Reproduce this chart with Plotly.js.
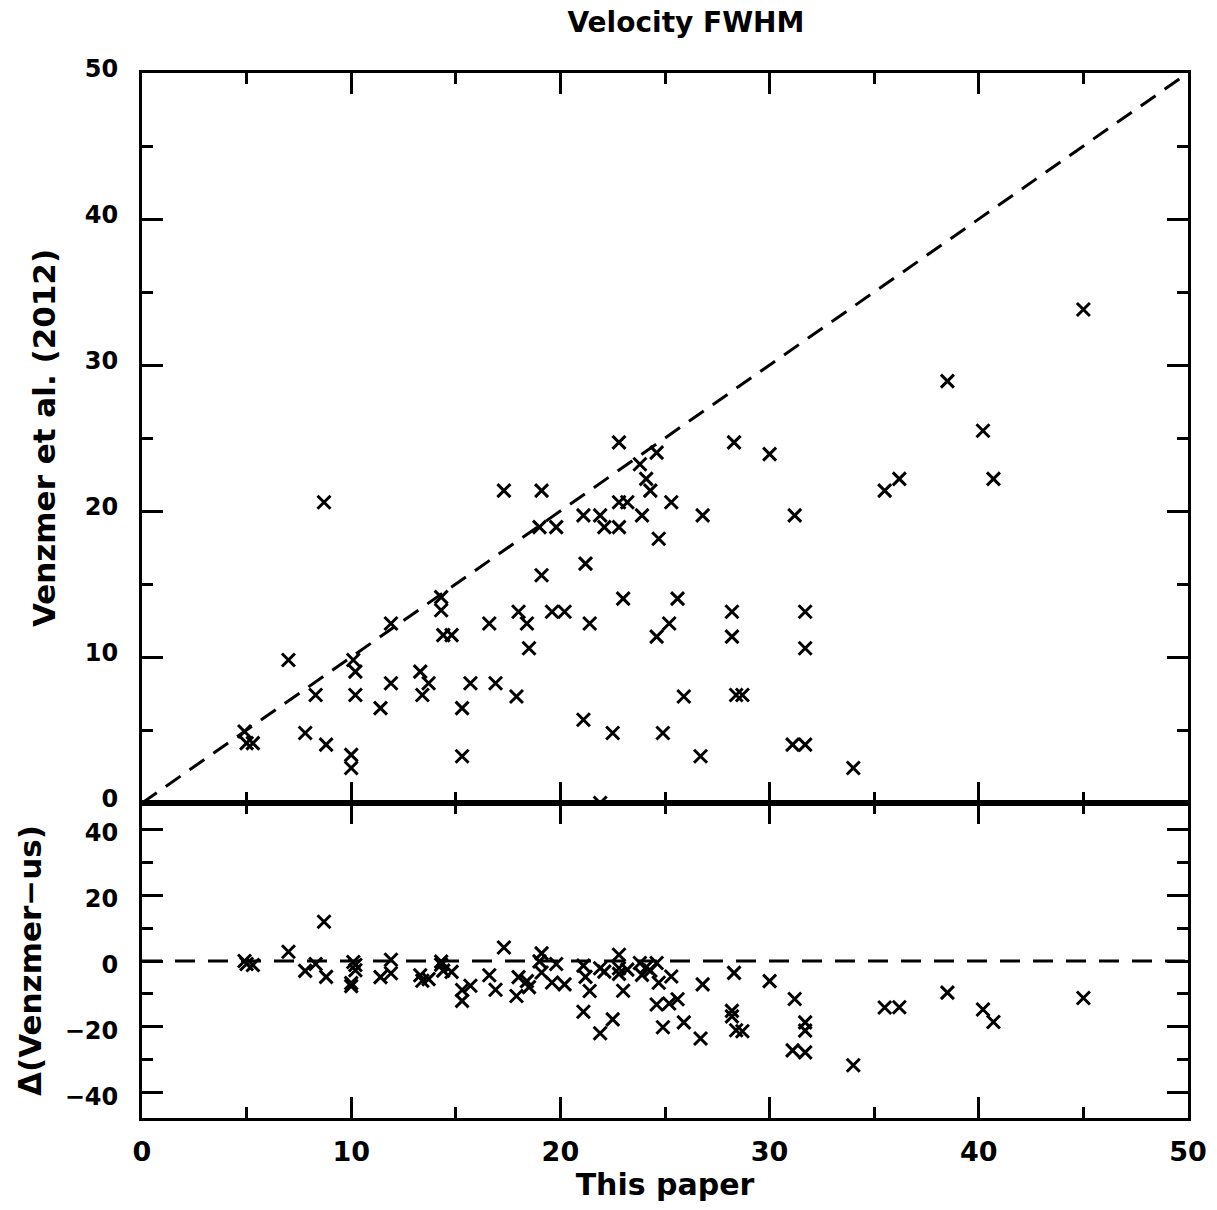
<!DOCTYPE html>
<html>
<head>
<meta charset="utf-8">
<script src="https://cdn.plot.ly/plotly-3.0.1.min.js"></script>
<style>html,body{margin:0;padding:0;background:#fff;}#chart{width:1217px;height:1210px;}</style>
</head>
<body>
<div id="chart"></div>
<script>
// "This paper" velocity FWHM values
var thisPaper = [4.9,5.0,5.3,7.0,7.8,8.3,8.7,8.8,10.0,10.0,10.1,10.2,10.2,11.4,11.9,11.9,13.3,13.4,13.7,14.3,14.3,14.4,14.8,15.3,15.3,15.7,16.6,16.9,17.3,17.9,18.0,18.4,18.5,19.0,19.1,19.1,19.6,19.8,20.2,21.1,21.2,21.1,21.4,21.9,21.9,22.1,22.5,22.8,22.8,22.8,23.2,23.0,23.8,23.9,24.1,24.3,24.6,24.7,24.6,24.9,25.2,25.3,25.6,25.9,26.7,26.8,28.3,28.2,28.2,28.4,28.7,30.0,31.2,31.1,31.7,31.7,31.7,34.0,35.5,36.2,38.5,40.2,40.7,45.0];
// Venzmer et al. (2012) values
var venzmer = [4.9,4.1,4.1,9.8,4.8,7.4,20.6,4.0,3.3,2.4,9.8,9.0,7.4,6.5,12.3,8.2,9.0,7.4,8.2,14.1,13.2,11.5,11.5,6.5,3.2,8.2,12.3,8.2,21.4,7.3,13.1,12.3,10.6,18.9,21.4,15.6,13.1,18.9,13.1,19.7,16.4,5.7,12.3,19.7,0.0,18.9,4.8,24.7,20.6,18.9,20.6,14.0,23.2,19.7,22.2,21.4,24.0,18.1,11.4,4.8,12.3,20.6,14.0,7.3,3.2,19.7,24.7,13.1,11.4,7.4,7.4,23.9,19.7,4.0,13.1,10.6,4.0,2.4,21.4,22.2,28.9,25.5,22.2,33.8];
// Δ(Venzmer − us)
var delta = [0.0,-0.9,-1.2,2.8,-3.0,-0.9,11.9,-4.8,-6.7,-7.6,-0.3,-1.2,-2.8,-4.9,0.4,-3.7,-4.3,-6.0,-5.5,-0.2,-1.1,-2.9,-3.3,-8.8,-12.1,-7.5,-4.3,-8.7,4.1,-10.6,-4.9,-6.1,-7.9,-0.1,2.3,-3.5,-6.5,-0.9,-7.1,-1.4,-4.8,-15.4,-9.1,-2.2,-21.9,-3.2,-17.7,1.9,-2.2,-3.9,-2.6,-9.0,-0.6,-4.2,-1.9,-2.9,-0.6,-6.6,-13.2,-20.1,-12.9,-4.7,-11.6,-18.6,-23.5,-7.1,-3.6,-15.1,-16.8,-21.0,-21.3,-6.1,-11.5,-27.1,-18.6,-21.1,-27.7,-31.6,-14.1,-14.0,-9.6,-14.7,-18.5,-11.2];
// reference lines
var oneToOneX = [0, 50];
var oneToOneY = [0, 50];
var zeroLineX = [0, 50];
var zeroLineY = [0, 0];

var marker = {symbol: 'x-thin', size: 13, color: '#000', line: {color: '#000', width: 3}};

var traces = [
  {x: oneToOneX, y: oneToOneY, xaxis: 'x', yaxis: 'y', mode: 'lines',
   line: {color: '#000', width: 3, dash: '18px,11px'}, hoverinfo: 'skip', showlegend: false},
  {x: thisPaper, y: venzmer, xaxis: 'x', yaxis: 'y', mode: 'markers', marker: marker, showlegend: false},
  {x: zeroLineX, y: zeroLineY, xaxis: 'x2', yaxis: 'y2', mode: 'lines',
   line: {color: '#000', width: 3, dash: '20px,13px'}, hoverinfo: 'skip', showlegend: false},
  {x: thisPaper, y: delta, xaxis: 'x2', yaxis: 'y2', mode: 'markers', marker: marker, showlegend: false}
];

var sansBold = {family: 'DejaVu Sans', size: 24, color: '#000', weight: 'bold'};
var axCommon = {
  showline: true, linewidth: 3, linecolor: '#000', mirror: 'ticks',
  ticks: 'inside', ticklen: 21, tickwidth: 3, tickcolor: '#000',
  showgrid: false, zeroline: false, fixedrange: true,
  tickfont: sansBold
};
function ax(extra) { return Object.assign({}, axCommon, extra); }

var split = 0.3014;
var layout = {
  width: 1217, height: 1210,
  margin: {l: 142, r: 29, t: 73, b: 92},
  paper_bgcolor: '#fff', plot_bgcolor: '#fff',
  title: {text: 'Velocity FWHM', font: {family: 'DejaVu Sans', size: 28, color: '#000', weight: 'bold'},
          x: 0.52, xref: 'paper', xanchor: 'center', y: 0.982, yref: 'container', yanchor: 'middle'},
  xaxis: ax({domain: [0, 1], range: [0, 50], anchor: 'y', showticklabels: false, tick0: 0, dtick: 10,
             minor: {dtick: 5, ticklen: 11, tickwidth: 3, tickcolor: '#000', ticks: 'inside'}}),
  yaxis: ax({domain: [split, 1], range: [0, 50], anchor: 'x', tick0: 0, dtick: 10, ticklabelstandoff: 16,
             ticklabelshift: -4,
             minor: {dtick: 5, ticklen: 11, tickwidth: 3, tickcolor: '#000', ticks: 'inside'},
             title: {text: 'Venzmer et al. (2012)', font: {family: 'DejaVu Sans', size: 31, color: '#000', weight: 'bold'}, standoff: 20}}),
  xaxis2: ax({domain: [0, 1], range: [0, 50], anchor: 'y2', tick0: 0, dtick: 10, ticklabelstandoff: 8,
              minor: {dtick: 5, ticklen: 11, tickwidth: 3, tickcolor: '#000', ticks: 'inside'},
              tickfont: {family: 'DejaVu Sans', size: 27, color: '#000', weight: 'bold'},
              title: {text: 'This paper', font: {family: 'DejaVu Sans', size: 30, color: '#000', weight: 'bold'}, standoff: 8}}),
  yaxis2: ax({domain: [0, split], range: [-47.6, 47.9], anchor: 'x2', tick0: 0, dtick: 20, ticklabelstandoff: 16,
              ticklabelshift: 4,
              minor: {dtick: 10, ticklen: 11, tickwidth: 3, tickcolor: '#000', ticks: 'inside'},
              title: {text: 'Δ(Venzmer−us)', font: {family: 'DejaVu Sans', size: 31, color: '#000', weight: 'bold'}, standoff: 14}})
};

Plotly.newPlot('chart', traces, layout, {displayModeBar: false, staticPlot: true});
</script>
</body>
</html>
